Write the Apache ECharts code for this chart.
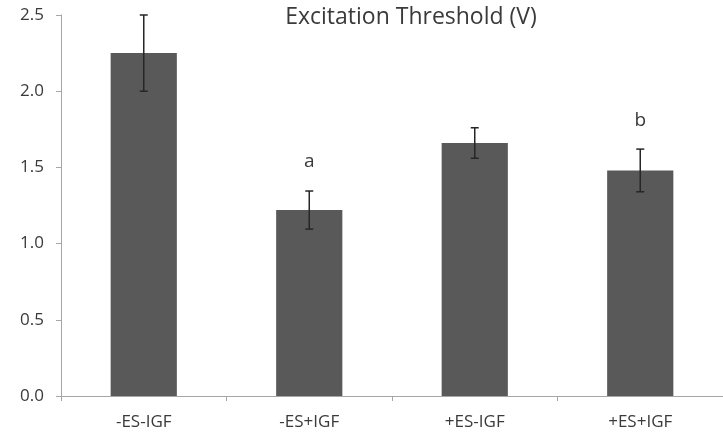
<!DOCTYPE html>
<html>
<head>
<meta charset="utf-8">
<script src="https://cdn.jsdelivr.net/npm/echarts@6/dist/echarts.min.js"></script>
<style>html,body{margin:0;padding:0;background:#fff}#c{width:723px;height:440px}</style>
</head>
<body>
<div id="c"></div>
<script>
var categories = ['-ES-IGF', '-ES+IGF', '+ES-IGF', '+ES+IGF'];
var means = [2.25, 1.22, 1.66, 1.48];
var errors = [0.25, 0.125, 0.10, 0.14];
var letters = ['', 'a', '', 'b'];
var yTicks = [0, 0.5, 1.0, 1.5, 2.0, 2.5];

var chart = echarts.init(document.getElementById('c'));
var font = '"Open Sans", Lato, sans-serif';
var errData = categories.map(function (c, i) { return [i, means[i] - errors[i], means[i] + errors[i], letters[i]]; });

chart.setOption({
  animation: false,
  title: {
    text: 'Excitation Threshold (V)',
    left: 406, top: 1, textAlign: 'center',
    textStyle: { fontFamily: font, fontSize: 23, fontWeight: 'normal', color: '#3a3a3a' }
  },
  grid: { left: 61, top: 15, width: 667, height: 381, containLabel: false },
  xAxis: {
    type: 'category', data: categories,
    axisLine: { lineStyle: { color: '#a6a6a6', width: 1 } },
    axisTick: { show: true, alignWithLabel: false, length: 5, lineStyle: { color: '#a6a6a6' } },
    axisLabel: { fontFamily: font, fontSize: 17, color: '#3a3a3a', margin: 18 }
  },
  yAxis: {
    type: 'value', min: 0, max: 2.5, interval: 0.5,
    axisLine: { show: true, lineStyle: { color: '#a6a6a6', width: 1 } },
    axisTick: { show: true, length: 5, lineStyle: { color: '#a6a6a6' } },
    splitLine: { show: false },
    axisLabel: {
      fontFamily: font, fontSize: 17, color: '#3a3a3a', margin: 17,
      formatter: function (v) { return yTicks.indexOf(v) >= 0 ? v.toFixed(1) : ''; }
    }
  },
  series: [
    {
      type: 'bar', data: means, barWidth: '40%',
      itemStyle: { color: '#595959' }
    },
    {
      type: 'custom', data: errData, z: 10,
      renderItem: function (params, api) {
        var x = api.value(0);
        var lo = api.coord([x, api.value(1)]);
        var hi = api.coord([x, api.value(2)]);
        var hw = 4;
        var style = { stroke: '#262626', lineWidth: 1.5 };
        var children = [
          { type: 'line', shape: { x1: hi[0], y1: hi[1], x2: lo[0], y2: lo[1] }, style: style },
          { type: 'line', shape: { x1: hi[0] - hw, y1: hi[1], x2: hi[0] + hw, y2: hi[1] }, style: style },
          { type: 'line', shape: { x1: lo[0] - hw, y1: lo[1], x2: lo[0] + hw, y2: lo[1] }, style: style }
        ];
        var letter = api.value(3);
        if (letter) {
          children.push({
            type: 'text',
            style: { text: letter, x: hi[0], y: hi[1] - 29, align: 'center', verticalAlign: 'middle',
              fill: '#3a3a3a', font: '19px ' + font }
          });
        }
        return { type: 'group', children: children };
      }
    }
  ]
});
</script>
</body>
</html>
